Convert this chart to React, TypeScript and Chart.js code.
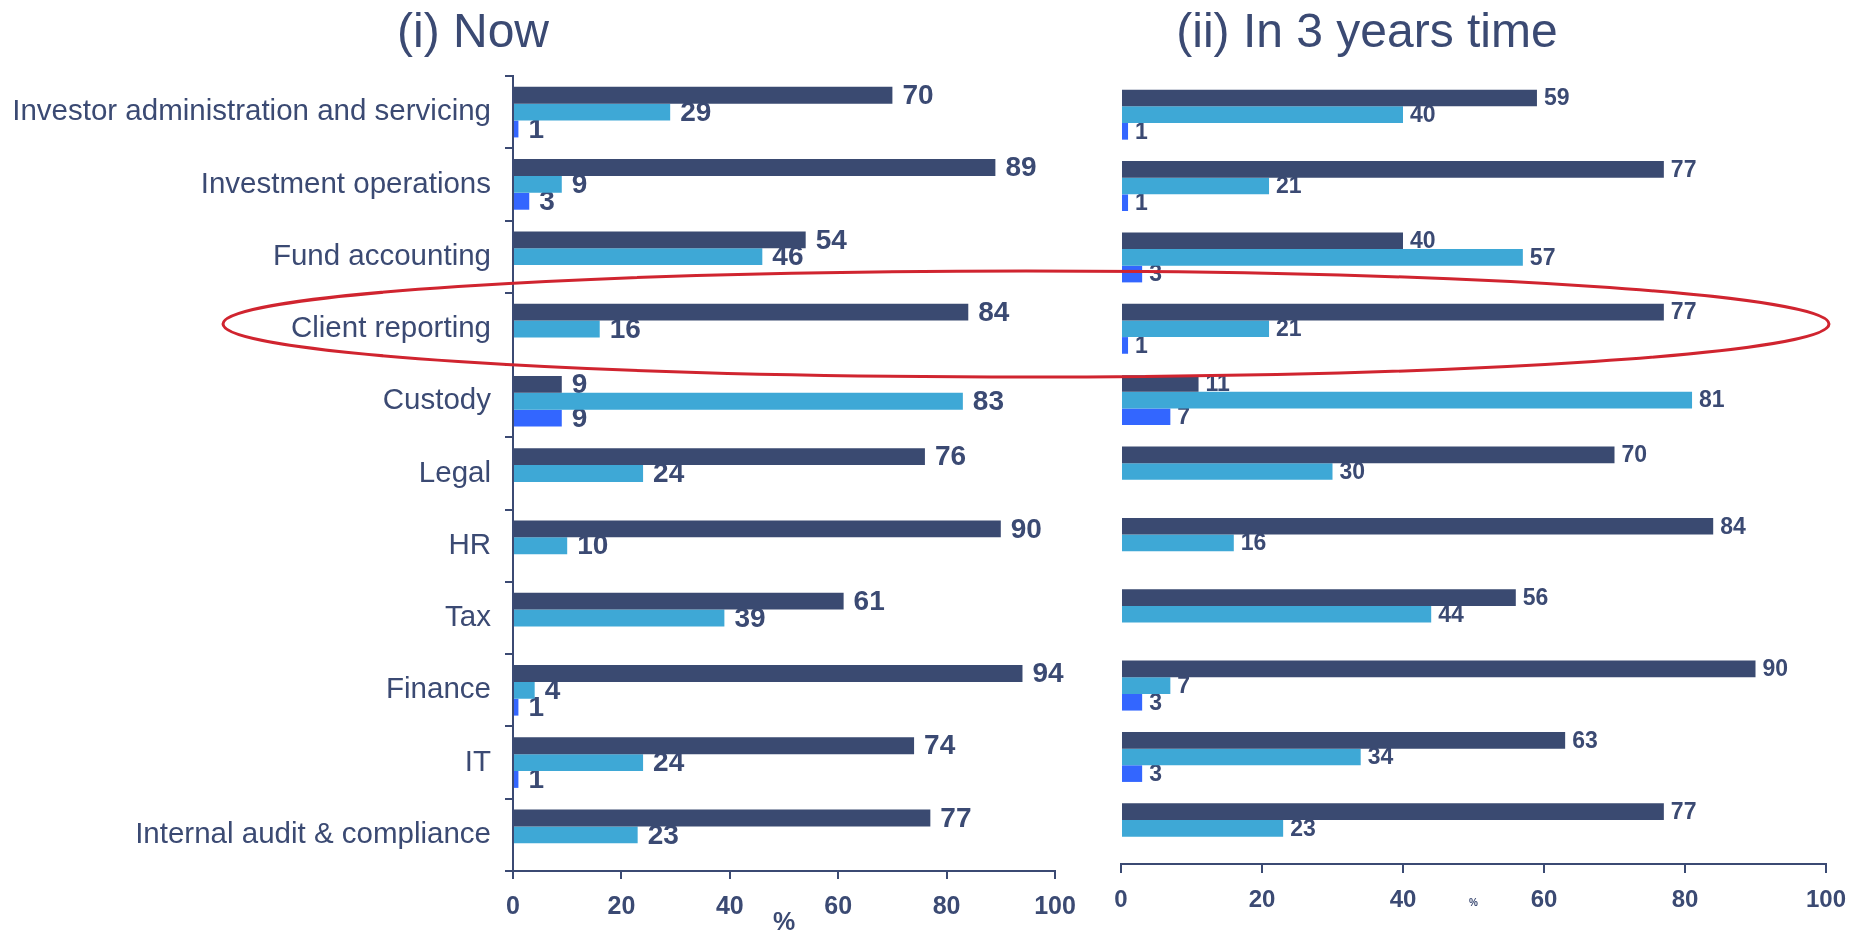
import React, { useEffect, useRef } from 'react';
import { Chart, registerables } from 'chart.js';

Chart.register(...registerables);

const categories = [
  'Investor administration and servicing',
  'Investment operations',
  'Fund accounting',
  'Client reporting',
  'Custody',
  'Legal',
  'HR',
  'Tax',
  'Finance',
  'IT',
  'Internal audit & compliance',
];

// (i) Now
const nowSeries1 = [70, 89, 54, 84, 9, 76, 90, 61, 94, 74, 77];
const nowSeries2 = [29, 9, 46, 16, 83, 24, 10, 39, 4, 24, 23];
const nowSeries3 = [1, 3, null, null, 9, null, null, null, 1, 1, null];

// (ii) In 3 years time
const futureSeries1 = [59, 77, 40, 77, 11, 70, 84, 56, 90, 63, 77];
const futureSeries2 = [40, 21, 57, 21, 81, 30, 16, 44, 7, 34, 23];
const futureSeries3 = [1, 1, 3, 1, 7, null, null, null, 3, 3, null];

const seriesNames = ['Series 1', 'Series 2', 'Series 3'];
const xTicks = [0, 20, 40, 60, 80, 100];

const titleNow = '(i) Now';
const titleFuture = '(ii) In 3 years time';
const axisTitle = '%';

const NAVY = '#3B4A73';
const DARK = '#3A4A71';
const LIGHT = '#3EA8D6';
const BRIGHT = '#3366FF';
const RED = '#D0242F';
const FONT = "'Liberation Sans', Arial, Helvetica, sans-serif";

Chart.defaults.font.family = FONT;

function labelPlugin(size: number, offset: number) {
  return {
    id: 'valueLabels',
    beforeDatasetsDraw(chart: any) {
      const ctx = chart.ctx;
      ctx.save();
      ctx.font = `bold ${size}px ${FONT}`;
      ctx.fillStyle = NAVY;
      ctx.textBaseline = 'middle';
      ctx.textAlign = 'left';
      chart.data.datasets.forEach((ds: any, i: number) => {
        const meta = chart.getDatasetMeta(i);
        meta.data.forEach((bar: any, j: number) => {
          const v = ds.data[j];
          if (v === null || v === undefined) return;
          ctx.fillText(String(v), bar.x + offset, bar.y + 1);
        });
      });
      ctx.restore();
    },
  };
}

function makeConfig(
  s1: (number | null)[],
  s2: (number | null)[],
  s3: (number | null)[],
  opts: {
    padding: any;
    showY: boolean;
    xHeight: number;
    tickLen: number;
    tickFont: number;
    tickPad: number;
    titleFont: number;
    titlePadBottom: number;
    labelFont: number;
    labelOffset: number;
  }
): any {
  const common = { borderWidth: 0, categoryPercentage: 0.7, barPercentage: 1.0 };
  return {
    type: 'bar',
    data: {
      labels: categories,
      datasets: [
        { label: seriesNames[0], data: s1, backgroundColor: DARK, ...common },
        { label: seriesNames[1], data: s2, backgroundColor: LIGHT, ...common },
        { label: seriesNames[2], data: s3, backgroundColor: BRIGHT, ...common },
      ],
    },
    options: {
      indexAxis: 'y',
      animation: false,
      responsive: false,
      maintainAspectRatio: false,
      layout: { padding: opts.padding },
      plugins: {
        legend: { display: false },
        tooltip: { enabled: false },
        title: { display: false },
      },
      scales: {
        y: {
          type: 'category',
          display: opts.showY,
          offset: true,
          grid: {
            display: true,
            offset: true,
            drawOnChartArea: false,
            drawTicks: true,
            tickLength: 8,
            color: NAVY,
            lineWidth: 2,
          },
          border: { display: true, color: NAVY, width: 2 },
          ticks: {
            autoSkip: false,
            color: NAVY,
            padding: 14,
            font: { family: FONT, size: 29.5 },
          },
          afterFit: (s: any) => {
            if (opts.showY) s.width = 513;
          },
        },
        x: {
          type: 'linear',
          min: 0,
          max: 100,
          grid: {
            display: true,
            drawOnChartArea: false,
            drawTicks: true,
            tickLength: opts.tickLen,
            color: NAVY,
            lineWidth: 2,
          },
          border: { display: true, color: NAVY, width: 2 },
          ticks: {
            color: NAVY,
            padding: opts.tickPad,
            maxRotation: 0,
            font: { family: FONT, size: opts.tickFont, weight: 'bold' },
          },
          afterBuildTicks: (s: any) => {
            s.ticks = xTicks.map((v) => ({ value: v }));
          },
          title: {
            display: true,
            text: axisTitle,
            color: NAVY,
            font: { family: FONT, size: opts.titleFont, weight: 'bold', lineHeight: 1 },
            padding: { top: 0, bottom: opts.titlePadBottom },
          },
          afterFit: (s: any) => {
            s.height = opts.xHeight;
          },
        },
      },
    },
    plugins: [labelPlugin(opts.labelFont, opts.labelOffset)],
  };
}

export default function App() {
  const leftRef = useRef<HTMLCanvasElement>(null);
  const rightRef = useRef<HTMLCanvasElement>(null);

  useEffect(() => {
    const left = new Chart(
      leftRef.current as HTMLCanvasElement,
      makeConfig(nowSeries1, nowSeries2, nowSeries3, {
        padding: { left: 0, top: 76, right: 35, bottom: 0 },
        showY: true,
        xHeight: 65,
        tickLen: 8,
        tickFont: 25,
        tickPad: 13,
        titleFont: 25,
        titlePadBottom: 0,
        labelFont: 28,
        labelOffset: 10,
      })
    );
    const right = new Chart(
      rightRef.current as HTMLCanvasElement,
      makeConfig(futureSeries1, futureSeries2, futureSeries3, {
        padding: { left: 31, top: 79, right: 37, bottom: 0 },
        showY: false,
        xHeight: 72,
        tickLen: 9,
        tickFont: 24,
        tickPad: 13,
        titleFont: 10,
        titlePadBottom: 28,
        labelFont: 23,
        labelOffset: 7,
      })
    );
    return () => {
      left.destroy();
      right.destroy();
    };
  }, []);

  const titleStyle: React.CSSProperties = {
    position: 'absolute',
    top: 7,
    width: 800,
    textAlign: 'center',
    fontFamily: FONT,
    fontSize: 48,
    lineHeight: '48px',
    color: NAVY,
    whiteSpace: 'nowrap',
  };

  return (
    <div
      style={{
        position: 'fixed',
        left: 0,
        top: 0,
        width: 1863,
        height: 936,
        background: '#ffffff',
        overflow: 'hidden',
      }}
    >
      <canvas
        ref={leftRef}
        width={1090}
        height={936}
        style={{ position: 'absolute', left: 0, top: 0 }}
      />
      <canvas
        ref={rightRef}
        width={773}
        height={936}
        style={{ position: 'absolute', left: 1090, top: 0 }}
      />
      <div style={{ ...titleStyle, left: 473 - 400 }}>{titleNow}</div>
      <div style={{ ...titleStyle, left: 1367 - 400 }}>{titleFuture}</div>
      <svg
        width={1863}
        height={936}
        style={{ position: 'absolute', left: 0, top: 0, pointerEvents: 'none' }}
      >
        <ellipse cx={1026} cy={324} rx={803} ry={53} fill="none" stroke={RED} strokeWidth={3} />
      </svg>
    </div>
  );
}
